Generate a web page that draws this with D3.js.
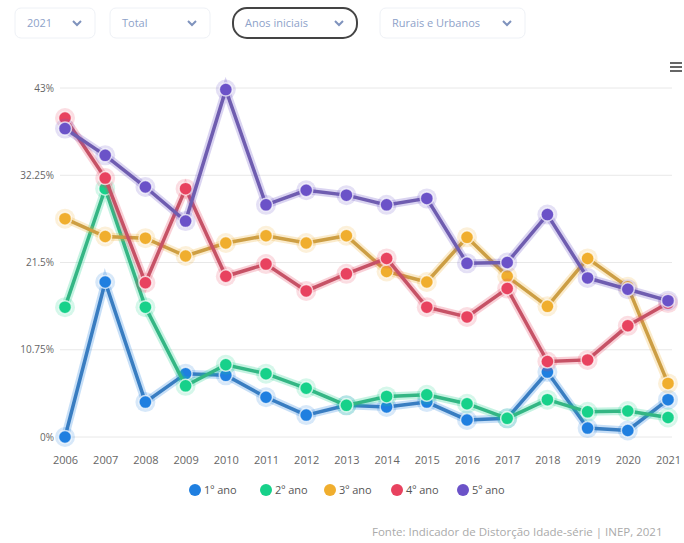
<!DOCTYPE html>
<html><head><meta charset="utf-8">
<script src="https://cdn.jsdelivr.net/npm/d3@7"></script>
<style>
body{margin:0;background:#fff;font-family:"Open Sans",Roboto,sans-serif;}
svg{display:block;}
</style></head>
<body>
<svg id="c" width="684" height="543"></svg>
<script>
const years = ["2006","2007","2008","2009","2010","2011","2012","2013","2014","2015","2016","2017","2018","2019","2020","2021"];
const ano1 = [0.0,19.1,4.3,7.8,7.6,4.9,2.7,3.9,3.7,4.3,2.1,2.3,8.0,1.1,0.8,4.6];
const ano2 = [16.0,30.6,16.0,6.3,8.9,7.8,6.0,3.9,5.0,5.2,4.1,2.3,4.6,3.1,3.2,2.4];
const ano3 = [26.9,24.7,24.5,22.3,23.9,24.8,23.9,24.8,20.4,19.1,24.6,19.8,16.1,22.0,18.5,6.6];
const ano4 = [39.3,31.9,19.0,30.6,19.8,21.3,18.0,20.1,22.0,16.0,14.8,18.3,9.3,9.5,13.7,16.5];
const ano5 = [38.0,34.7,30.8,26.6,42.8,28.6,30.4,29.8,28.6,29.4,21.4,21.5,27.4,19.6,18.2,16.8];
const seriesNames = ["1º ano","2º ano","3º ano","4º ano","5º ano"];
const seriesColors = ["#1f7fe0","#17d18a","#f0ae2e","#e8425f","#6b52c8"];
const yTicks = [0,10.75,21.5,32.25,43];
const yTickLabels = ["0%","10.75%","21.5%","32.25%","43%"];
const filters = ["2021","Total","Anos iniciais","Rurais e Urbanos"];
const sourceText = "Fonte: Indicador de Distorção Idade-série | INEP, 2021";

const allSeries = [ano1,ano2,ano3,ano4,ano5];
const svg = d3.select("#c");

// filter buttons
const btnX = [15,110,233,380], btnW = [80,100,124,145];
filters.forEach((f,i)=>{
  const g = svg.append("g").attr("transform",`translate(${btnX[i]},8)`);
  g.append("rect").attr("width",btnW[i]).attr("height",30).attr("rx",i===2?14:6)
    .attr("fill","#fff").attr("stroke",i===2?"#444":"#eef1f6").attr("stroke-width",i===2?2:1);
  g.append("text").attr("x",12).attr("y",19).attr("font-size",11).attr("fill","#8ea2c9").text(f);
  g.append("path").attr("d",`M${btnW[i]-22},13 l4,4 l4,-4`).attr("fill","none").attr("stroke","#7f93bd").attr("stroke-width",2);
});

// hamburger
[0,4,8].forEach(d=>svg.append("rect").attr("x",670).attr("y",62+d).attr("width",12).attr("height",2).attr("fill","#666"));

const x = d3.scalePoint().domain(years).range([65,668]);
const y = d3.scaleLinear().domain([0,43]).range([437,88]);

// grid
svg.append("g").selectAll("line").data(yTicks).join("line")
  .attr("x1",60).attr("x2",672).attr("y1",d=>y(d)).attr("y2",d=>y(d))
  .attr("stroke","#e8e8e8").attr("stroke-width",1);

// y axis labels
const yAxis = d3.axisLeft(y).tickValues(yTicks).tickFormat((d,i)=>yTickLabels[i]).tickSize(0).tickPadding(0);
const ya = svg.append("g").attr("transform","translate(54,0)").call(yAxis);
ya.select(".domain").remove();
ya.selectAll("text").attr("font-size",10).attr("fill","#666").attr("font-family","Open Sans, sans-serif");

// x axis labels
const xAxis = d3.axisBottom(x).tickSize(0).tickPadding(0);
const xa = svg.append("g").attr("transform","translate(0,456)").call(xAxis);
xa.select(".domain").remove();
xa.selectAll("text").attr("font-size",11).attr("fill","#666").attr("font-family","Open Sans, sans-serif");

const line = d3.line().x((d,i)=>x(years[i])).y(d=>y(d));

allSeries.forEach((s,k)=>{
  const g = svg.append("g");
  g.append("path").datum(s).attr("d",line).attr("fill","none")
    .attr("stroke",seriesColors[k]).attr("stroke-opacity",0.25).attr("stroke-width",8);
  g.append("path").datum(s).attr("d",line).attr("fill","none")
    .attr("stroke",d3.interpolateRgb(seriesColors[k],"#777")(0.3)).attr("stroke-width",3.5);
  g.selectAll("circle.h").data(s).join("circle").attr("class","h")
    .attr("cx",(d,i)=>x(years[i])).attr("cy",d=>y(d)).attr("r",10)
    .attr("fill",seriesColors[k]).attr("fill-opacity",0.18);
  g.selectAll("circle.m").data(s).join("circle").attr("class","m")
    .attr("cx",(d,i)=>x(years[i])).attr("cy",d=>y(d)).attr("r",6.5)
    .attr("fill",seriesColors[k]).attr("stroke","#fff").attr("stroke-opacity",0.7).attr("stroke-width",1.5);
});

// legend
const legX = [195,266,330,397,463];
seriesNames.forEach((n,i)=>{
  svg.append("circle").attr("cx",legX[i]).attr("cy",490).attr("r",6).attr("fill",seriesColors[i]);
  svg.append("text").attr("x",legX[i]+9).attr("y",494).attr("font-size",11).attr("fill","#555").text(n);
});

svg.append("text").attr("x",372).attr("y",536).attr("font-size",11.5).attr("fill","#aaa").text(sourceText);
</script>
</body></html>
